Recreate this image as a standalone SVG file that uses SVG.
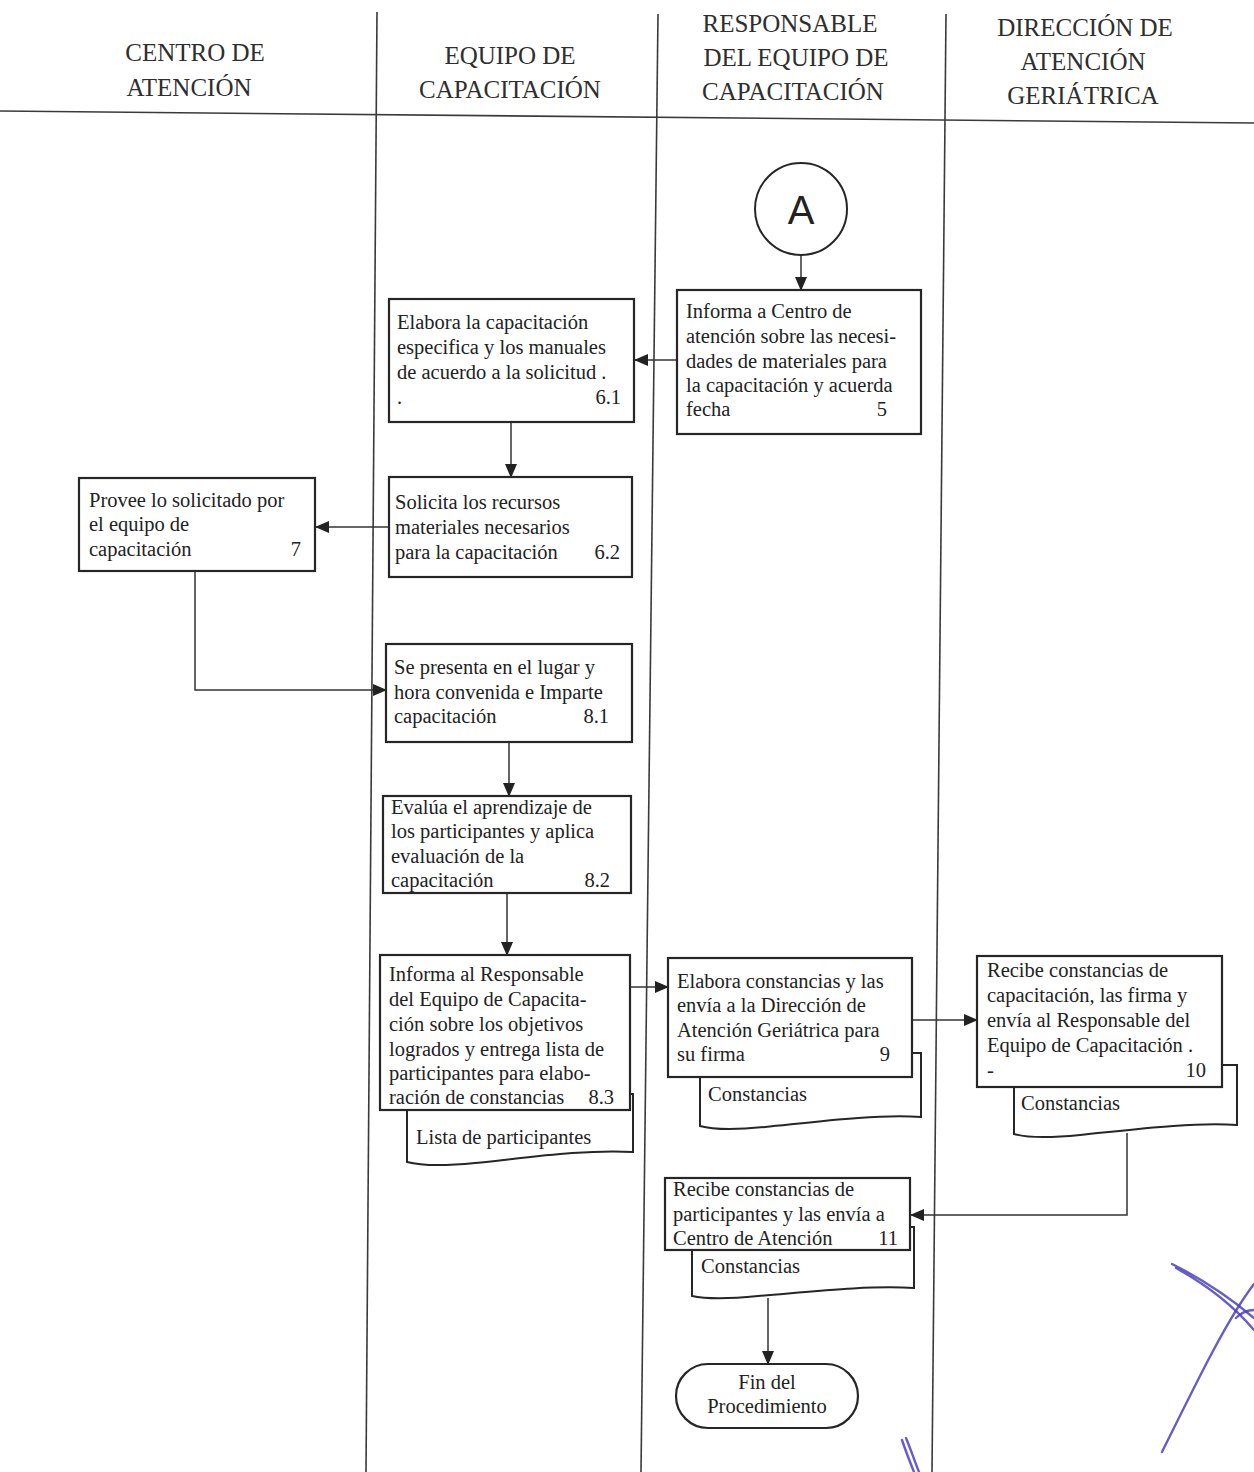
<svg xmlns="http://www.w3.org/2000/svg" width="1254" height="1472" viewBox="0 0 1254 1472">
  <defs>
    <style>
      .lane{stroke:#3a3a3a;stroke-width:1.6;fill:none}
      .hd{font-family:"Liberation Serif",serif;font-size:25px;fill:#2e2e2e;text-anchor:middle}
      .box{fill:#fff;stroke:#262626;stroke-width:2.2}
      .doc{fill:#fff;stroke:#262626;stroke-width:2}
      .t{font-family:"Liberation Serif",serif;font-size:20.5px;fill:#222}
      .n{text-anchor:end}
      .m{text-anchor:middle}
      .c{stroke:#333;stroke-width:1.5;fill:none;marker-end:url(#ah)}
      .sig{stroke:#4a3fc4;stroke-width:2.4;fill:none;stroke-linecap:round;opacity:0.85}
    </style>
    <marker id="ah" markerWidth="14" markerHeight="12" refX="13" refY="6" orient="auto" markerUnits="userSpaceOnUse">
      <path d="M0,0 L14,6 L0,12 Z" fill="#222"/>
    </marker>
  </defs>
  <rect width="1254" height="1472" fill="#fff"/>

  <!-- swimlane frame -->
  <g id="lanes">
    <line class="lane" x1="0" y1="111" x2="1254" y2="123" stroke-width="2"/>
    <line class="lane" x1="377" y1="12" x2="366" y2="1472"/>
    <line class="lane" x1="658" y1="14" x2="641" y2="1472"/>
    <line class="lane" x1="946" y1="14" x2="932" y2="1472"/>
    <text class="hd" x="195" y="61">CENTRO DE</text>
    <text class="hd" x="189" y="96">ATENCIÓN</text>
    <text class="hd" x="510" y="64">EQUIPO DE</text>
    <text class="hd" x="510" y="98">CAPACITACIÓN</text>
    <text class="hd" x="790" y="32">RESPONSABLE</text>
    <text class="hd" x="796" y="66">DEL EQUIPO DE</text>
    <text class="hd" x="793" y="100">CAPACITACIÓN</text>
    <text class="hd" x="1085" y="36">DIRECCIÓN DE</text>
    <text class="hd" x="1083" y="70">ATENCIÓN</text>
    <text class="hd" x="1083" y="104">GERIÁTRICA</text>
  </g>

  <!-- connectors -->
  <g id="connectors">
    <line class="c" x1="801" y1="255" x2="801" y2="290"/>
    <line class="c" x1="677" y1="360" x2="635" y2="360"/>
    <line class="c" x1="511" y1="422" x2="511" y2="477"/>
    <line class="c" x1="389" y1="527" x2="316" y2="527"/>
    <polyline class="c" points="195,571 195,690 386,690"/>
    <line class="c" x1="509" y1="742" x2="509" y2="796"/>
    <line class="c" x1="507" y1="893" x2="507" y2="955"/>
    <line class="c" x1="630" y1="987" x2="668" y2="987"/>
    <line class="c" x1="912" y1="1020" x2="977" y2="1020"/>
    <polyline class="c" points="1127,1133 1127,1215 911,1215"/>
    <line class="c" x1="768" y1="1298" x2="768" y2="1364"/>
  </g>

  <g id="connector-A">
    <circle cx="801" cy="209" r="46" fill="#fff" stroke="#262626" stroke-width="2"/>
    <text x="801" y="224" font-family="Liberation Sans, sans-serif" font-size="40" fill="#222" text-anchor="middle">A</text>
  </g>

  <g id="step-5">
    <rect class="box" x="677" y="290" width="244" height="144"/>
    <text class="t" x="686" y="318">Informa a Centro de</text>
    <text class="t" x="686" y="343">atención sobre las necesi-</text>
    <text class="t" x="686" y="368">dades de materiales para</text>
    <text class="t" x="686" y="392">la capacitación y acuerda</text>
    <text class="t" x="686" y="416">fecha</text>
    <text class="t n" x="887" y="416">5</text>
  </g>

  <g id="step-6-1">
    <rect class="box" x="389" y="299" width="245" height="123"/>
    <text class="t" x="397" y="329">Elabora la capacitación</text>
    <text class="t" x="397" y="354">especifica y  los manuales</text>
    <text class="t" x="397" y="379">de acuerdo a la solicitud  .</text>
    <text class="t" x="397" y="404">.</text>
    <text class="t n" x="621" y="404">6.1</text>
  </g>

  <g id="step-6-2">
    <rect class="box" x="389" y="477" width="243" height="100"/>
    <text class="t" x="395" y="509">Solicita los recursos</text>
    <text class="t" x="395" y="534">materiales necesarios</text>
    <text class="t" x="395" y="559">para la capacitación</text>
    <text class="t n" x="620" y="559">6.2</text>
  </g>

  <g id="step-7">
    <rect class="box" x="79" y="478" width="236" height="93"/>
    <text class="t" x="89" y="507">Provee lo solicitado por</text>
    <text class="t" x="89" y="531">el equipo de</text>
    <text class="t" x="89" y="556">capacitación</text>
    <text class="t n" x="301" y="556">7</text>
  </g>

  <g id="step-8-1">
    <rect class="box" x="386" y="644" width="246" height="98"/>
    <text class="t" x="394" y="674">Se presenta en el lugar y</text>
    <text class="t" x="394" y="699">hora convenida e Imparte</text>
    <text class="t" x="394" y="723">capacitación</text>
    <text class="t n" x="609" y="723">8.1</text>
  </g>

  <g id="step-8-2">
    <rect class="box" x="383" y="796" width="248" height="97"/>
    <text class="t" x="391" y="814">Evalúa el aprendizaje de</text>
    <text class="t" x="391" y="838">los participantes y aplica</text>
    <text class="t" x="391" y="863">evaluación de la</text>
    <text class="t" x="391" y="887">capacitación</text>
    <text class="t n" x="610" y="887">8.2</text>
  </g>

  <g id="step-8-3">
    <path class="doc" d="M407,1094 H633 V1152 C585,1149 525,1158 475,1163 C445,1166 422,1166 407,1162 Z"/>
    <text class="t" x="416" y="1144">Lista de participantes</text>
    <rect class="box" x="380" y="955" width="250" height="155"/>
    <text class="t" x="389" y="981">Informa al Responsable</text>
    <text class="t" x="389" y="1006">del Equipo de Capacita-</text>
    <text class="t" x="389" y="1031">ción sobre los objetivos</text>
    <text class="t" x="389" y="1056">logrados y entrega lista de</text>
    <text class="t" x="389" y="1080">participantes para elabo-</text>
    <text class="t" x="389" y="1104">ración de constancias</text>
    <text class="t n" x="614" y="1104">8.3</text>
  </g>

  <g id="step-9">
    <path class="doc" d="M700,1053 H921 V1117 C875,1114 815,1122 765,1127 C735,1130 714,1130 700,1126 Z"/>
    <text class="t" x="708" y="1101">Constancias</text>
    <rect class="box" x="668" y="958" width="244" height="119"/>
    <text class="t" x="677" y="988">Elabora constancias y las</text>
    <text class="t" x="677" y="1012">envía a la Dirección de</text>
    <text class="t" x="677" y="1037">Atención Geriátrica para</text>
    <text class="t" x="677" y="1061">su firma</text>
    <text class="t n" x="890" y="1061">9</text>
  </g>

  <g id="step-10">
    <path class="doc" d="M1014,1065 H1237 V1125 C1190,1122 1130,1130 1080,1135 C1050,1138 1028,1138 1014,1134 Z"/>
    <text class="t" x="1021" y="1110">Constancias</text>
    <rect class="box" x="977" y="956" width="245" height="131"/>
    <text class="t" x="987" y="977">Recibe constancias de</text>
    <text class="t" x="987" y="1002">capacitación, las firma y</text>
    <text class="t" x="987" y="1027">envía al Responsable del</text>
    <text class="t" x="987" y="1052">Equipo de Capacitación  .</text>
    <text class="t" x="987" y="1077">-</text>
    <text class="t n" x="1206" y="1077">10</text>
  </g>

  <g id="step-11">
    <path class="doc" d="M692,1227 H914 V1288 C868,1285 808,1292 758,1296 C728,1299 706,1299 692,1296 Z"/>
    <text class="t" x="701" y="1273">Constancias</text>
    <rect class="box" x="665" y="1178" width="245" height="72"/>
    <text class="t" x="673" y="1196">Recibe constancias de</text>
    <text class="t" x="673" y="1221">participantes y las envía a</text>
    <text class="t" x="673" y="1245">Centro de Atención</text>
    <text class="t n" x="898" y="1245">11</text>
  </g>

  <g id="end">
    <rect class="box" x="676" y="1364" width="182" height="64" rx="32" ry="32"/>
    <text class="t m" x="767" y="1389">Fin del</text>
    <text class="t m" x="767" y="1413">Procedimiento</text>
  </g>

  <!-- handwritten initials in blue ink -->
  <g id="initials">
    <path class="sig" d="M1172,1264 C1200,1278 1228,1296 1254,1318"/>
    <path class="sig" d="M1176,1268 C1205,1284 1232,1304 1254,1330"/>
    <path class="sig" d="M1254,1284 C1228,1318 1200,1375 1162,1452"/>
    <path class="sig" d="M1236,1318 C1242,1312 1248,1310 1254,1310"/>
    <path class="sig" d="M902,1440 C906,1452 910,1462 914,1472"/>
    <path class="sig" d="M906,1438 C911,1450 915,1462 919,1472"/>
  </g>
</svg>
